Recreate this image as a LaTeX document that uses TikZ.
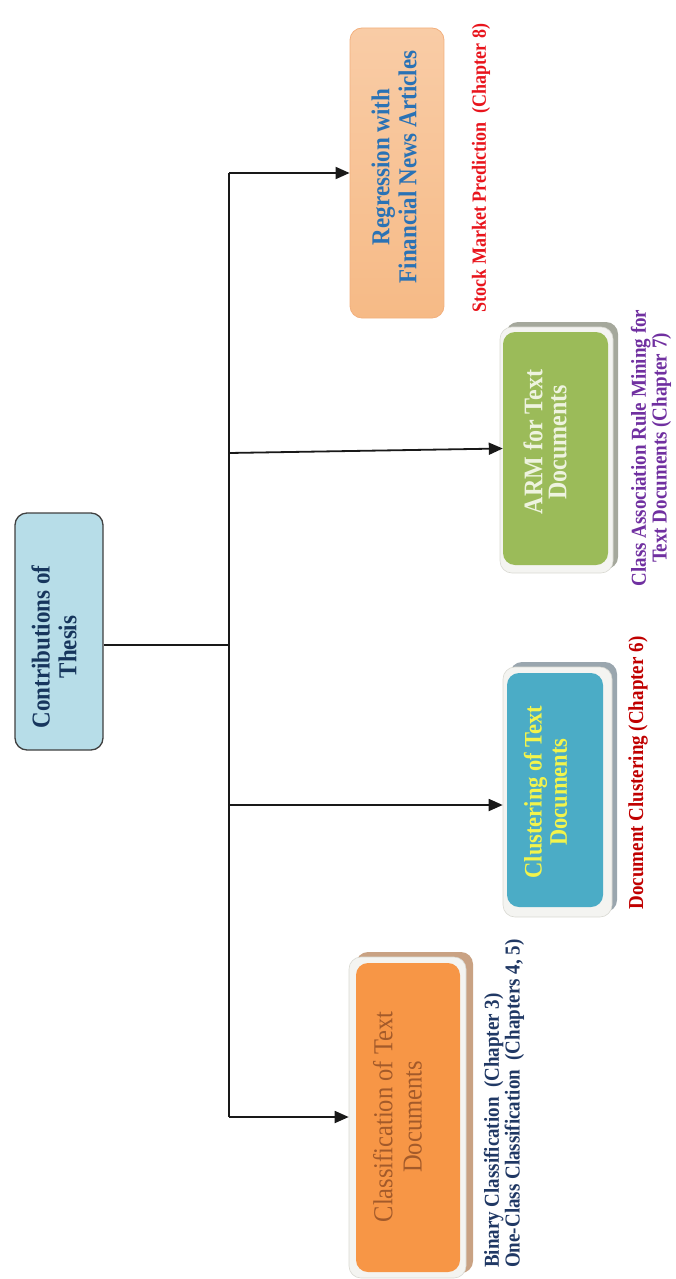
\documentclass[tikz,border=0pt]{standalone}
\usepackage{fontspec}
\setmainfont{Liberation Serif}
\usetikzlibrary{arrows.meta}

\definecolor{mainfill}{HTML}{B7DDE8}
\definecolor{mainedge}{HTML}{404040}
\definecolor{navytext}{HTML}{17365D}
\definecolor{regA}{HTML}{F9CCA6}
\definecolor{regB}{HTML}{FDE6D3}
\definecolor{regC}{HTML}{F6BA86}
\definecolor{regedge}{HTML}{F2B07E}
\definecolor{regtext}{HTML}{2A72B5}
\definecolor{armfill}{HTML}{9BBB59}
\definecolor{armtext}{HTML}{EEF3DF}
\definecolor{armshadow}{HTML}{A5A89C}
\definecolor{clufill}{HTML}{4BACC6}
\definecolor{clutext}{HTML}{F2F44C}
\definecolor{clushadow}{HTML}{9AA6AE}
\definecolor{clafill}{HTML}{F79646}
\definecolor{clatext}{HTML}{A35A2A}
\definecolor{clashadow}{HTML}{C9A283}
\definecolor{frame}{HTML}{F4F4F1}
\definecolor{frameedge}{HTML}{D9D9D2}
\definecolor{lblred}{HTML}{E8141C}
\definecolor{lblpurple}{HTML}{7030A0}
\definecolor{lbldarkred}{HTML}{C00000}
\definecolor{lblnavy}{HTML}{203864}

\begin{document}
\begin{tikzpicture}[x=1pt,y=-1pt,
  % rotated rounded box, text running bottom to top
  panel/.style={rotate=90, rounded corners=12pt, inner sep=0pt, anchor=center},
  % slightly tall lettering: local y is stretched before the rotation
  boxtext/.style={rotate=90, yscale=1.12, align=center, inner sep=0pt, anchor=center},
  note/.style={rotate=90, yscale=1.12, inner sep=0pt, font=\bfseries\fontsize{19}{16.5}\selectfont},
  link/.style={line width=1.8pt, black!90},
  arr/.style={link, -{Triangle[length=14pt,width=12pt]}}
]
\useasboundingbox (0,0) rectangle (675,1279);

% ---- root ----
\node[panel, draw=mainedge, line width=1.3pt, fill=mainfill,
      minimum width=237pt, minimum height=88pt] (main) at (59,631.5) {};
\node[boxtext, text=navytext, font=\bfseries\fontsize{23}{24}\selectfont]
      (maintext) at (54,647) {Contributions of\\Thesis};

% ---- regression ----
\node[panel, draw=regedge, line width=0.8pt,
      top color=regA, middle color=regB, bottom color=regC,
      minimum width=290pt, minimum height=94pt] (reg) at (397,173) {};
\node[boxtext, text=regtext, font=\bfseries\fontsize{23}{24}\selectfont]
      (regtext) at (394,167) {Regression with\\Financial News Articles};

% ---- ARM ----
\node[panel, fill=armshadow, minimum width=247pt, minimum height=112pt] (armshd) at (562,445.5) {};
\node[panel, fill=frame, draw=frameedge, line width=0.6pt,
      minimum width=246pt, minimum height=113pt] (armback) at (556.5,450) {};
\node[panel, fill=armfill, minimum width=233pt, minimum height=105pt] (arm) at (555.5,448.5) {};
\node[boxtext, text=armtext, font=\bfseries\fontsize{24}{21.5}\selectfont]
      (armtext) at (545,442) {ARM for Text\\Documents};

% ---- clustering ----
\node[panel, fill=clushadow, minimum width=250pt, minimum height=107pt] (clushd) at (563.5,787) {};
\node[panel, fill=frame, draw=frameedge, line width=0.6pt,
      minimum width=250pt, minimum height=109pt] (cluback) at (557.5,792) {};
\node[panel, fill=clufill, minimum width=234pt, minimum height=96pt] (clu) at (555,790) {};
\node[boxtext, text=clutext, font=\bfseries\fontsize{22.5}{22.5}\selectfont]
      (clutext) at (545.5,792) {Clustering of Text\\Documents};

% ---- classification ----
\node[panel, fill=clashadow, minimum width=321pt, minimum height=117pt] (clashd) at (414.5,1112.5) {};
\node[panel, fill=frame, draw=frameedge, line width=0.6pt,
      minimum width=321pt, minimum height=117pt] (claback) at (407.5,1117.5) {};
\node[panel, fill=clafill, minimum width=309pt, minimum height=104pt] (cla) at (408,1117.5) {};
\node[boxtext, text=clatext, font=\fontsize{24.5}{26}\selectfont]
      (clatext) at (397.5,1117) {Classification of Text\\Documents};

% ---- chapter notes ----
\node[note, text=lblred, font=\bfseries\fontsize{18}{16}\selectfont]
      (regnote) at (481,168) {Stock Market Prediction\ \ (Chapter 8)};
\node[note, text=lblpurple, align=center] (armnote) at (651,448)
      {Class Association\ Rule Mining for\\Text Documents (Chapter 7)};
\node[note, text=lbldarkred] (clunote) at (638,773) {Document Clustering (Chapter 6)};
\node[note, text=lblnavy, align=left, anchor=west] (clanote) at (504,1268)
      {Binary Classification\ \ (Chapter 3)\\One-Class Classification\ \ (Chapters 4, 5)};

% ---- connectors ----
\coordinate (hub) at (229,645);
\coordinate (t1) at (229,173);
\coordinate (t2) at (229,453);
\coordinate (t3) at (229,805);
\coordinate (t4) at (229,1117);

\draw[link] (main.south |- hub) -- (hub);
\draw[link] (t1) -- (t4);
\draw[arr] (t1) -- (t1 -| reg.north);
\draw[arr] (t2) -- (arm.north);
\draw[arr] (t3) -- (t3 -| cluback.north);
\draw[arr] (t4) -- (t4 -| claback.north);
\end{tikzpicture}
\end{document}
